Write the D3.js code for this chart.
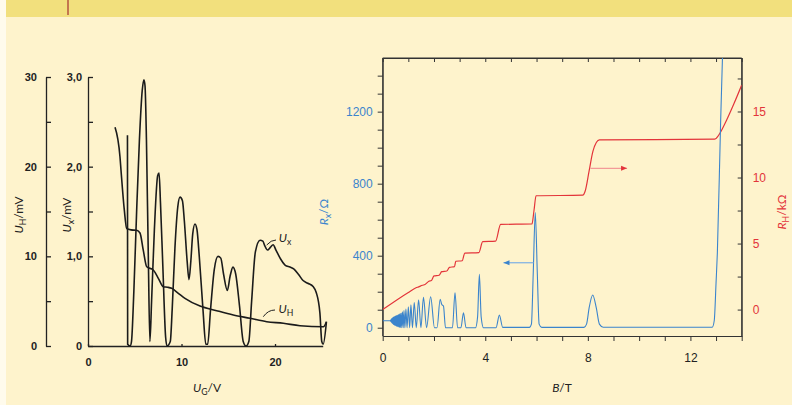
<!DOCTYPE html>
<html>
<head>
<meta charset="utf-8">
<script src="https://cdn.jsdelivr.net/npm/d3@7"></script>
<style>
  html, body { margin: 0; padding: 0; background: #fef3cc; }
  svg { display: block; font-family: Lato, "Open Sans", sans-serif; }
</style>
</head>
<body>
<svg id="chart" width="792" height="405"></svg>
<script>
// ---- left panel: gate voltage sweep (U_G in V) ----
const uxTrace = [
  [4.22,2.35],[4.24,0.02],[4.5,0],[4.65,0.05],[4.9,0.6],[5.2,1.5],[5.5,2.3],[5.8,2.85],[5.98,2.97],
  [6.1,2.9],[6.25,2.3],[6.45,1.0],[6.62,0.05],[6.8,0.5],[7.1,1.3],[7.45,1.9],[7.6,1.93],[7.75,1.6],
  [8.0,0.9],[8.3,0.1],[8.45,0],[8.8,0.05],[9.0,0.4],[9.3,1.1],[9.6,1.55],[9.84,1.66],[10.1,1.62],
  [10.3,1.4],[10.6,0.95],[10.8,0.74],[11.0,0.95],[11.2,1.25],[11.44,1.36],[11.65,1.3],[11.9,1.0],
  [12.3,0.4],[12.6,0.02],[12.8,0.02],[13.1,0.4],[13.5,0.85],[13.9,1.0],[14.2,0.98],[14.5,0.8],
  [14.9,0.62],[15.2,0.78],[15.5,0.88],[15.8,0.8],[16.2,0.45],[16.6,0.05],[16.9,0],[17.2,0.05],
  [17.5,0.5],[17.9,1.05],[18.4,1.18],[18.7,1.17],[18.9,1.12],[19.2,1.07],[19.5,1.1],[19.8,1.13],
  [20.1,1.07],[20.6,0.97],[21.1,0.9],[21.6,0.88],[22.0,0.86],[22.5,0.8],[23.0,0.73],[23.5,0.7],
  [24.1,0.66],[24.4,0.6],[24.8,0.37],[25.0,0.05],[25.15,0.02],[25.5,0.27]
]
const uhTrace = [
  [2.89,24.4],[3.42,21.1],[3.53,19.6],[3.88,15.2],[4.14,13.1],[4.6,12.95],[5.21,12.9],[5.56,12.6],
  [5.91,10.7],[6.28,8.84],[6.98,8.47],[7.52,7.55],[8.05,6.61],[8.5,6.55],[8.95,6.43],[9.66,5.88],
  [10.37,5.32],[11.98,4.46],[13.76,3.94],[15.54,3.46],[17.33,3.09],[19.11,2.71],[20.89,2.53],
  [22.67,2.26],[25.17,2.15],[25.5,2.71]
]
const uhTicks = [0, 10, 20, 30]
const uhMinor = [5, 15, 25]
const uxTicks = [0, 1, 2, 3]
const uxMinor = [0.5, 1.5, 2.5]
const ugTicks = [0, 10, 20]

// ---- right panel: magnetic field sweep (B in T) ----
const rxTrace = [
  [0,39],[0.25,39],[0.3,38],[0.305,41],[0.31,36],[0.315,43],[0.32,34],[0.325,45],[0.33,32],
  [0.335,47],[0.34,30],[0.345,49],[0.35,28],[0.357,51],[0.364,26],[0.372,53],[0.38,24],[0.388,55],
  [0.396,22],[0.405,57],[0.414,20],[0.423,58],[0.432,18],[0.442,60],[0.452,16],[0.463,61],
  [0.474,14],[0.486,63],[0.498,12],[0.511,65],[0.524,10],[0.538,67],[0.552,8],[0.567,69],[0.583,6],
  [0.6,72],[0.617,4],[0.636,75],[0.655,2],[0.676,78],[0.697,1],[0.72,82],[0.745,0],[0.772,88],
  [0.8,0],[0.83,95],[0.865,0],[0.905,104],[0.95,0],[1.0,116],[1.05,0],[1.1,127],[1.16,0],
  [1.23,140],[1.31,0],[1.4,155],[1.49,0],[1.59,169],[1.71,0],[1.87,172],[2.02,0],[2.12,0],
  [2.24,158],[2.3,130],[2.37,120],[2.45,0],[2.72,0],[2.82,194],[2.92,0],[3.05,0],[3.15,83],
  [3.25,0],[3.62,0],[3.7,60],[3.77,296],[3.84,60],[3.93,0],[4.42,0],[4.55,70],[4.68,2],[5.72,2],
  [5.8,20],[5.87,300],[5.95,640],[6.03,300],[6.1,20],[6.2,2],[7.85,2],[7.95,20],[8.05,110],
  [8.19,182],[8.33,110],[8.45,20],[8.6,3],[12.85,3],[12.93,40],[13.0,250],[13.05,413],
  [13.18,1153],[13.25,1500],[13.35,2000]
]
const rhTrace = [
  [0,0],[1.0,1.3],[1.3,1.65],[1.4,1.72],[1.55,1.84],[1.65,1.9],[1.8,2.15],[1.9,2.2],[2.0,2.55],
  [2.2,2.6],[2.3,2.87],[2.5,2.92],[2.6,3.2],[2.8,3.25],[2.85,3.66],[3.1,3.7],[3.2,4.28],[3.75,4.32],
  [3.9,5.14],[4.4,5.18],[4.6,6.45],[5.82,6.48],[5.9,7.5],[5.98,8.62],[7.8,8.66],[7.9,9.0],
  [8.05,10.5],[8.2,12.0],[8.45,12.85],[12.95,12.9],[13.1,13.2],[13.4,14.3],[13.7,15.6],[14,17.0]
]
const bTicks = [0, 4, 8, 12]
const rxTicks = [0, 400, 800, 1200]
const rhTicks = [0, 5, 10, 15]

const svg = d3.select("#chart")
const ink = "#222"
const blue = "#3b84cc"
const red = "#e3343a"

// background + header band
svg.append("rect").attr("width", 792).attr("height", 405).attr("fill", "#fef3cc")
svg.append("rect").attr("width", 792).attr("height", 17).attr("fill", "#f2e07d")
svg.append("rect").attr("width", 6).attr("height", 405).attr("fill", "#fffbec")
svg.append("line").attr("x1", 68).attr("x2", 68).attr("y1", 0).attr("y2", 15)
  .attr("stroke", "#b4543f").attr("stroke-width", 1.5)

// ================= left panel =================
const xUG = d3.scaleLinear().domain([0, 25.1]).range([88, 322.7])
const yUx = d3.scaleLinear().domain([0, 3]).range([346, 77])
const yUH = d3.scaleLinear().domain([0, 30]).range([346, 77])

const left = svg.append("g").attr("class", "left")

const styleAxis = (g, size) => {
  g.selectAll("path, line").attr("stroke", ink).attr("stroke-width", 1.3)
  g.selectAll("text").attr("fill", ink).attr("font-size", size).attr("font-weight", "bold")
}

// outer U_H axis (ticks point right)
left.append("g").attr("transform", "translate(46,0)")
  .call(d3.axisRight(yUH).tickValues(uhTicks.concat(uhMinor)).tickSize(5).tickSizeOuter(0).tickFormat(""))
  .call(g => styleAxis(g, 11))
left.append("g").attr("transform", "translate(46,0)")
  .call(d3.axisLeft(yUH).tickValues(uhTicks).tickSize(0).tickPadding(9))
  .call(g => g.select(".domain").remove())
  .call(g => styleAxis(g, 11))

// inner U_x axis
left.append("g").attr("transform", "translate(88,0)")
  .call(d3.axisRight(yUx).tickValues(uxTicks.concat(uxMinor)).tickSize(5).tickSizeOuter(0).tickFormat(""))
  .call(g => styleAxis(g, 11))
left.append("g").attr("transform", "translate(88,0)")
  .call(d3.axisLeft(yUx).tickValues(uxTicks).tickSize(0).tickPadding(6)
    .tickFormat(d => d === 0 ? "0" : d3.format(".1f")(d).replace(".", ",")))
  .call(g => g.select(".domain").remove())
  .call(g => styleAxis(g, 11))

// U_G axis
left.append("g").attr("transform", "translate(0,346)")
  .call(d3.axisTop(xUG).tickValues(ugTicks).tickSize(2).tickSizeOuter(0).tickFormat(""))
  .call(g => styleAxis(g, 11))
left.append("g").attr("transform", "translate(0,346)")
  .call(d3.axisBottom(xUG).tickValues(ugTicks).tickSize(0).tickPadding(12))
  .call(g => g.select(".domain").remove())
  .call(g => styleAxis(g, 11))

const lineUx = d3.line().x(d => xUG(d[0])).y(d => yUx(d[1])).curve(d3.curveMonotoneX)
const lineUH = d3.line().x(d => xUG(d[0])).y(d => yUH(d[1])).curve(d3.curveMonotoneX)

left.append("path").datum(uxTrace).attr("d", lineUx)
  .attr("fill", "none").attr("stroke", "#1b1b1b").attr("stroke-width", 1.6)
left.append("path").datum(uhTrace).attr("d", lineUH)
  .attr("fill", "none").attr("stroke", "#1b1b1b").attr("stroke-width", 1.6)

// labels with subscripts
const subLabel = (g, x, y, main, sub, rest, color, rot, size) => {
  const t = g.append("text")
    .attr("transform", `translate(${x},${y})` + (rot ? " rotate(-90)" : ""))
    .attr("text-anchor", "middle").attr("fill", color).attr("font-size", size)
  t.append("tspan").attr("font-style", "italic").text(main)
  t.append("tspan").attr("font-size", size * 0.72).attr("dy", size * 0.25).text(sub)
  t.append("tspan").attr("dy", -size * 0.25).text(rest)
  return t
}

subLabel(left, 23, 215, "U", "H", "/mV", ink, true, 12)
subLabel(left, 71, 215, "U", "x", "/mV", ink, true, 12)
subLabel(left, 207, 392, "U", "G", "/V", ink, false, 12)

// curve annotations
left.append("path").attr("d", "M266.7,245 Q271,240 276,240").attr("fill", "none").attr("stroke", ink).attr("stroke-width", 1)
left.append("path").attr("d", "M263.3,316.7 Q268,310 275,310").attr("fill", "none").attr("stroke", ink).attr("stroke-width", 1)
subLabel(left, 285, 242, "U", "x", "", ink, false, 12)
subLabel(left, 286, 313, "U", "H", "", ink, false, 12)

// ================= right panel =================
const xB = d3.scaleLinear().domain([0, 14]).range([382.7, 741.7])
const yRx = d3.scaleLinear().domain([-46, 1498]).range([336, 58])
const yRH = d3.scaleLinear().domain([-2.0, 19.05]).range([336, 58])

const right = svg.append("g").attr("class", "right")

const thin = g => g.selectAll("path, line").attr("stroke", "#333").attr("stroke-width", 1)

// bottom axis (outer ticks) + labels
right.append("g").attr("transform", "translate(0,336)")
  .call(d3.axisBottom(xB).ticks(14).tickSize(5).tickSizeOuter(0).tickFormat(""))
  .call(thin)
right.append("g").attr("transform", "translate(0,336)")
  .call(d3.axisBottom(xB).tickValues(bTicks).tickSize(0).tickPadding(17))
  .call(g => g.select(".domain").remove())
  .call(g => g.selectAll("text").attr("fill", ink).attr("font-size", 12))

// top ticks pointing in
right.append("g").attr("transform", "translate(0,58)")
  .call(d3.axisBottom(xB).ticks(14).tickSize(4).tickSizeOuter(0).tickFormat(""))
  .call(thin)

// left R_x axis
right.append("g").attr("transform", "translate(382.7,0)")
  .call(d3.axisLeft(yRx).tickValues(d3.range(0, 1401, 100)).tickSize(5).tickSizeOuter(0).tickFormat(""))
  .call(thin)
right.append("g").attr("transform", "translate(382.7,0)")
  .call(d3.axisLeft(yRx).tickValues(rxTicks).tickSize(0).tickPadding(10).tickFormat(d3.format("d")))
  .call(g => g.select(".domain").remove())
  .call(g => g.selectAll("text").attr("fill", blue).attr("font-size", 12))

// right R_H axis (ticks inward)
right.append("g").attr("transform", "translate(741.7,0)")
  .call(d3.axisLeft(yRH).tickValues(d3.range(0, 18, 2.5)).tickSize(4).tickSizeOuter(0).tickFormat(""))
  .call(thin)
right.append("g").attr("transform", "translate(741.7,0)")
  .call(d3.axisRight(yRH).tickValues(rhTicks).tickSize(0).tickPadding(11))
  .call(g => g.select(".domain").remove())
  .call(g => g.selectAll("text").attr("fill", red).attr("font-size", 12))

// frame edges
right.append("path").attr("d", `M382.7,336V58H741.7V336`)
  .attr("fill", "none").attr("stroke", "#333").attr("stroke-width", 1)

svg.append("clipPath").attr("id", "frameClip")
  .append("rect").attr("x", 382.7).attr("y", 58).attr("width", 359).attr("height", 278)

const lineRx = d3.line().x(d => xB(d[0])).y(d => yRx(d[1])).curve(d3.curveMonotoneX)
const lineRH = d3.line().x(d => xB(d[0])).y(d => yRH(d[1])).curve(d3.curveMonotoneX)

const plot = right.append("g").attr("clip-path", "url(#frameClip)")
plot.append("path").datum(rhTrace).attr("d", lineRH)
  .attr("fill", "none").attr("stroke", red).attr("stroke-width", 1.2)
plot.append("path").datum(rxTrace).attr("d", lineRx)
  .attr("fill", "none").attr("stroke", blue).attr("stroke-width", 1.1)

// arrows pointing to each curve's axis
const arrow = (x1, x2, y, lineColor, headColor) => {
  right.append("line").attr("x1", x1).attr("x2", x2).attr("y1", y).attr("y2", y)
    .attr("stroke", lineColor).attr("stroke-width", 1.3)
  const dir = Math.sign(x2 - x1)
  right.append("path")
    .attr("d", `M${x2},${y}L${x2 - dir * 6},${y - 2.5}L${x2 - dir * 6},${y + 2.5}Z`)
    .attr("fill", headColor)
}
arrow(xB(8.1), xB(9.53), yRH(10.7), "#f39a98", red)
arrow(xB(5.88), xB(4.71), yRx(361), "#86b4e2", blue)

subLabel(right, 328, 212, "R", "x", "/Ω", blue, true, 12)
subLabel(right, 786, 212, "R", "H", "/kΩ", red, true, 12)
const bLabel = right.append("text").attr("x", 562).attr("y", 392)
  .attr("text-anchor", "middle").attr("fill", ink).attr("font-size", 12)
bLabel.append("tspan").attr("font-style", "italic").text("B")
bLabel.append("tspan").text("/T")
</script>
</body>
</html>
